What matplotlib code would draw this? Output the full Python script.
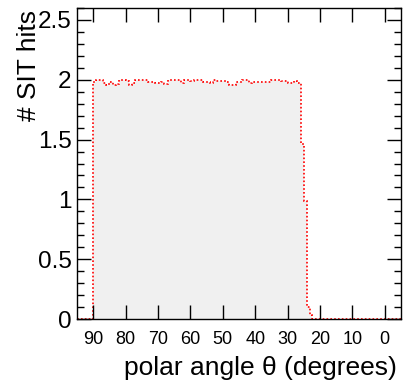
import numpy as np
import matplotlib
matplotlib.use("Agg")
import matplotlib.pyplot as plt
from matplotlib.ticker import MultipleLocator, FuncFormatter

plt.rcParams['font.family'] = ['Liberation Sans', 'DejaVu Sans']

# bin edges (degrees), ascending
edges_low = [-5.0, 22.6, 23.1, 23.9, 25.0]
edges_main = list(range(26, 91))  # 26 ... 90
edges_high = [95.0]
bin_edges = edges_low + edges_main + edges_high

# values in the fall-off region (bins [-5,22.6], [22.6,23.1], [23.1,23.9], [23.9,25], [25,26])
hits_low = [0.0, 0.03, 0.10, 0.99, 1.46]
# plateau values, listed from the 89-90 bin down to the 26-27 bin
plateau_desc = [1.985, 1.997, 1.997, 1.975, 1.960, 1.980, 1.956, 1.965, 1.997, 1.997,
                1.990, 1.960, 1.975, 1.997, 1.997, 1.997, 1.997, 1.985, 1.980, 1.975,
                1.975, 1.980, 1.965, 1.997, 1.997, 1.997, 1.997, 1.972, 1.997, 1.997,
                1.988, 1.997, 1.997, 1.997, 1.983, 1.983, 1.972, 1.997, 1.988, 1.988,
                1.988, 1.983, 1.960, 1.960, 1.983, 1.983, 1.997, 1.997, 1.975, 1.983,
                1.983, 1.983, 1.983, 1.978, 1.978, 1.997, 1.997, 1.997, 1.988, 1.988,
                1.975, 1.975, 1.988, 1.975]
hits_high = [0.0]
hits = hits_low + plateau_desc[::-1] + hits_high

y_ticks = [0, 0.5, 1, 1.5, 2, 2.5]
x_ticks = [90, 80, 70, 60, 50, 40, 30, 20, 10, 0]

W, H = 403, 381
fig = plt.figure(figsize=(W / 100, H / 100), dpi=100)
ax = fig.add_axes([77 / W, 1 - 319 / H, (401 - 77) / W, (319 - 8) / H])

ax.stairs(hits, bin_edges, fill=True, color='#f0f0f0', linewidth=0)
ax.stairs(hits, bin_edges, color='red', linewidth=1.2, linestyle=(0, (1, 1.3)),
          baseline=None)

ax.set_xlim(95, -5)
ax.set_ylim(0, 2.6)

ax.set_xticks(x_ticks)
ax.set_yticks(y_ticks)
ax.yaxis.set_minor_locator(MultipleLocator(0.1))
ax.yaxis.set_major_formatter(FuncFormatter(lambda v, p: '%g' % v))
ax.xaxis.set_major_formatter(FuncFormatter(lambda v, p: '%g' % v))

ax.tick_params(axis='both', which='both', direction='in', top=True, right=True,
               color='black')
ax.tick_params(axis='y', which='major', length=10, width=1, labelsize=17.5, pad=4)
ax.tick_params(axis='y', which='minor', length=5, width=1)
ax.tick_params(axis='x', which='major', length=10, width=1, labelsize=13, pad=9)

for s in ax.spines.values():
    s.set_linewidth(1.0)
    s.set_color('black')

fig.text(397 / W, 1 - 368 / H, 'polar angle θ (degrees)', ha='right', va='center',
         fontsize=19)
fig.text(29 / W, 1 - 10 / H, '# SIT hits', ha='center', va='top', rotation=90,
         fontsize=19)

fig.savefig('out.png', dpi=100)
